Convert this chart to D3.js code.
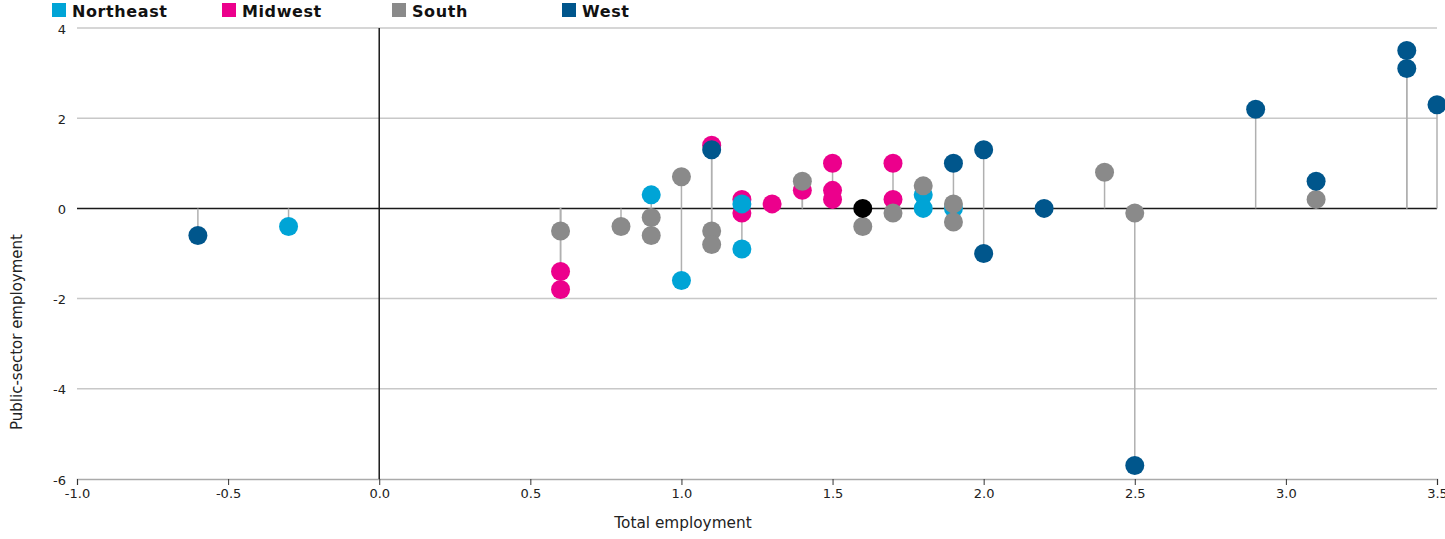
<!DOCTYPE html>
<html><head><meta charset="utf-8">
<script src="https://cdn.jsdelivr.net/npm/d3@7"></script>
<style>
body{margin:0;background:#fff;overflow:hidden}
svg{display:block;font-family:"DejaVu Sans",sans-serif}
</style>
</head><body>
<svg id="chart" width="1445" height="539"></svg>
<script>
const regions = ["Northeast","Midwest","South","West"];
const regionColors = ["#00a4d6","#ec008c","#8a8a8a","#00568c"];

const northeast = [[-0.3,-0.4],[0.9,0.3],[1.0,-1.6],[1.2,0.1],[1.2,-0.9],[1.8,0.3],[1.8,0.0],[1.9,0.0]];
const midwest = [[0.6,-1.4],[0.6,-1.8],[1.1,1.4],[1.2,0.2],[1.2,-0.1],[1.3,0.1],[1.4,0.4],[1.5,1.0],[1.5,0.4],[1.5,0.2],[1.7,1.0],[1.7,0.2]];
const south = [[0.6,-0.5],[0.8,-0.4],[0.9,-0.2],[0.9,-0.6],[1.0,0.7],[1.1,-0.5],[1.1,-0.8],[1.4,0.6],[1.6,-0.4],[1.7,-0.1],[1.8,0.5],[1.9,0.1],[1.9,-0.3],[2.4,0.8],[2.5,-0.1],[3.1,0.2]];
const west = [[-0.6,-0.6],[1.1,1.3],[1.9,1.0],[2.0,1.3],[2.0,-1.0],[2.2,0.0],[2.5,-5.7],[2.9,2.2],[3.1,0.6],[3.4,3.5],[3.4,3.1],[3.5,2.3]];
const nationalAverage = [[1.6,0.0]];

const xTicks = [-1.0,-0.5,0.0,0.5,1.0,1.5,2.0,2.5,3.0,3.5];
const yTicks = [-6,-4,-2,0,2,4];
const xTitle = "Total employment";
const yTitle = "Public-sector employment";

const svg = d3.select("#chart");
const x = d3.scaleLinear().domain([-1,3.5]).range([77,1437]);
const y = d3.scaleLinear().domain([-6,4]).range([479,28]);
const hyphen = s => s.replace("\u2212","-");

// gridlines
svg.append("g").selectAll("line").data(yTicks.filter(v=>v!==0 && v!==-6)).join("line")
  .attr("x1",x(-1)).attr("x2",x(3.5)).attr("y1",d=>y(d)).attr("y2",d=>y(d))
  .attr("stroke","#c8c8c8").attr("stroke-width",1.5);

// y tick labels
svg.append("g").selectAll("text").data(yTicks).join("text")
  .attr("x",66).attr("y",d=>y(d)+1).attr("dy","0.35em").attr("text-anchor","end")
  .attr("font-size",13).attr("fill","#222").text(d=>hyphen(d3.format("d")(d)));

// bottom axis
const xAxis = d3.axisBottom(x).tickValues(xTicks).tickFormat(d=>hyphen(d3.format(".1f")(d))).tickSize(6).tickPadding(4);
const gx = svg.append("g").attr("transform",`translate(0,${y(-6)})`).call(xAxis);
gx.select(".domain").attr("stroke","#aaa").attr("stroke-width",1.5);
gx.selectAll(".tick line").attr("stroke","#333").attr("stroke-width",1);
gx.selectAll(".tick text").attr("font-size",13).attr("fill","#222").attr("font-family","DejaVu Sans, sans-serif");

// zero lines
svg.append("line").attr("x1",x(-1)).attr("x2",x(3.5)).attr("y1",y(0)).attr("y2",y(0))
  .attr("stroke","#1a1a1a").attr("stroke-width",1.5);
svg.append("line").attr("x1",x(0)).attr("x2",x(0)).attr("y1",y(4)).attr("y2",y(-6))
  .attr("stroke","#1a1a1a").attr("stroke-width",1.5);

// points in drawing order
const groups = [
  {data: midwest, color: regionColors[1]},
  {data: northeast, color: regionColors[0]},
  {data: south, color: regionColors[2]},
  {data: west, color: regionColors[3]},
  {data: nationalAverage, color: "#000"}
];
const all = groups.flatMap(g => g.data.map(p => ({x:p[0], y:p[1], color:g.color})));

svg.append("g").selectAll("line").data(all).join("line")
  .attr("x1",d=>x(d.x)).attr("x2",d=>x(d.x)).attr("y1",y(0)).attr("y2",d=>y(d.y))
  .attr("stroke","#b0b0b0").attr("stroke-width",1.5);

svg.append("g").selectAll("circle").data(all).join("circle")
  .attr("cx",d=>x(d.x)).attr("cy",d=>y(d.y)).attr("r",9.5).attr("fill",d=>d.color);

// legend
const lg = svg.append("g").selectAll("g").data(regions).join("g")
  .attr("transform",(d,i)=>`translate(${52 + i*170},3)`);
lg.append("rect").attr("width",14).attr("height",14).attr("fill",(d,i)=>regionColors[i]);
lg.append("text").attr("x",20).attr("y",13.5).attr("font-size",16).attr("font-weight","bold")
  .attr("letter-spacing","0.6px").attr("fill","#111").text(d=>d);

// axis titles
svg.append("text").attr("x",683).attr("y",528).attr("text-anchor","middle")
  .attr("font-size",15.3).attr("fill","#222").text(xTitle);
svg.append("text").attr("transform","translate(22,332) rotate(-90)").attr("text-anchor","middle")
  .attr("font-size",15).attr("fill","#222").text(yTitle);
</script>
</body></html>
